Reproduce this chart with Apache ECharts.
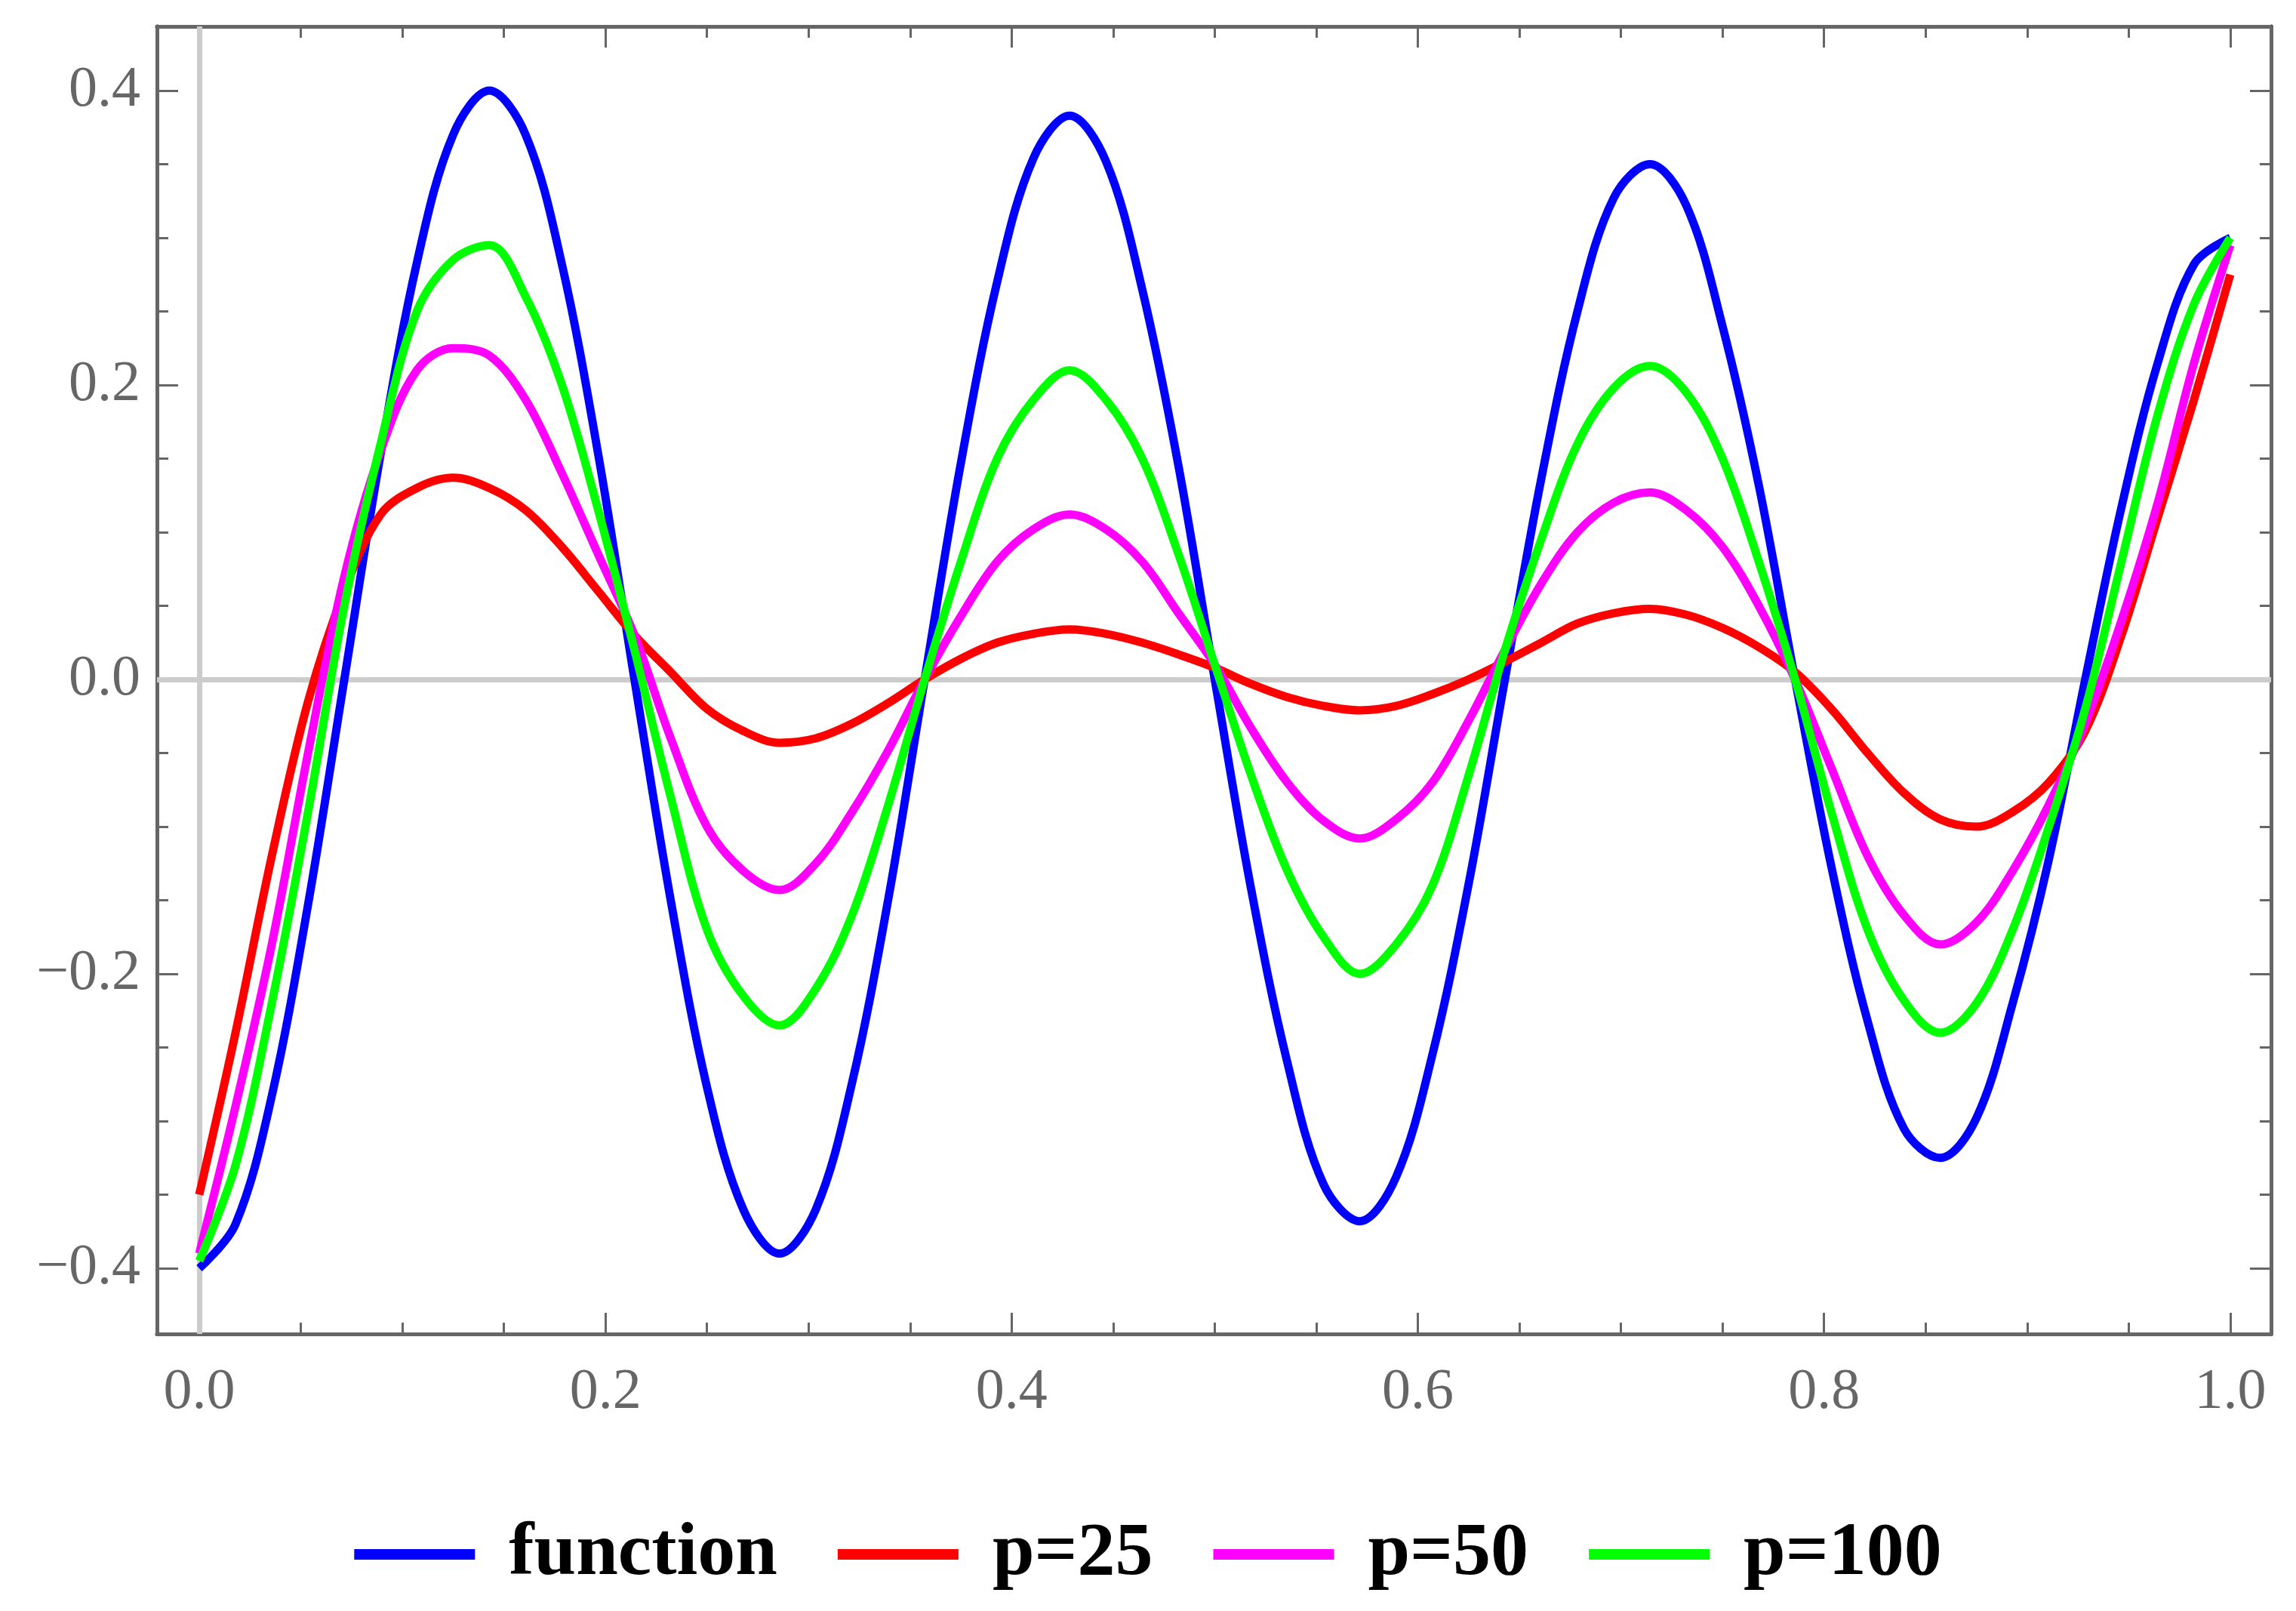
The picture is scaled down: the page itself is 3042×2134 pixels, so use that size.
<!DOCTYPE html>
<html><head><meta charset="utf-8">
<script src="https://cdn.jsdelivr.net/npm/echarts@6/dist/echarts.min.js"></script>
<style>html,body{margin:0;padding:0;background:#fff}#c{width:3042px;height:2134px}</style>
</head><body><div id="c"></div>
<script>
const xs = [];
for (let k = 0; k <= 56; k++) xs.push(k / 56);
const fnVals = [-0.40,-0.37,-0.283,-0.153,0.0,0.153,0.283,0.37,0.40,0.37,0.282,0.153,0.0,-0.15,-0.277,-0.36,-0.39,-0.36,-0.274,-0.149,0.0,0.147,0.27,0.354,0.383,0.352,0.265,0.145,0.0,-0.142,-0.26,-0.343,-0.368,-0.338,-0.255,-0.139,0.0,0.136,0.25,0.327,0.35,0.322,0.24,0.132,0.0,-0.127,-0.232,-0.305,-0.325,-0.298,-0.22,-0.122,0.0,0.117,0.215,0.282,0.30];
const p100Vals = [-0.395,-0.33,-0.22,-0.09,0.05,0.16,0.25,0.285,0.295,0.26,0.20,0.115,0.02,-0.08,-0.17,-0.215,-0.235,-0.21,-0.16,-0.085,0.0,0.08,0.15,0.19,0.21,0.19,0.15,0.085,0.01,-0.065,-0.13,-0.175,-0.20,-0.18,-0.14,-0.065,0.02,0.095,0.16,0.198,0.213,0.195,0.15,0.08,0.0,-0.09,-0.17,-0.218,-0.24,-0.22,-0.17,-0.10,-0.02,0.08,0.18,0.255,0.30];
const p50Vals = [-0.39,-0.29,-0.18,-0.05,0.07,0.155,0.21,0.225,0.22,0.19,0.14,0.085,0.03,-0.04,-0.10,-0.13,-0.143,-0.125,-0.09,-0.048,0.0,0.043,0.08,0.102,0.112,0.102,0.08,0.045,0.01,-0.033,-0.07,-0.096,-0.108,-0.095,-0.07,-0.028,0.02,0.065,0.10,0.12,0.127,0.115,0.09,0.05,0.0,-0.06,-0.12,-0.16,-0.18,-0.165,-0.13,-0.085,-0.03,0.04,0.12,0.215,0.295];
const p25Vals = [-0.35,-0.24,-0.12,-0.015,0.06,0.112,0.13,0.137,0.13,0.115,0.09,0.06,0.03,0.005,-0.02,-0.035,-0.043,-0.04,-0.03,-0.016,0.0,0.014,0.025,0.031,0.034,0.031,0.025,0.017,0.008,-0.003,-0.012,-0.018,-0.021,-0.018,-0.01,0.0,0.012,0.025,0.038,0.045,0.048,0.044,0.035,0.022,0.005,-0.02,-0.05,-0.077,-0.095,-0.1,-0.09,-0.07,-0.035,0.03,0.11,0.19,0.275];
const xMajor = [0,0.2,0.4,0.6,0.8,1.0];
const xMinor = [];
for (let k = 0; k <= 20; k++) xMinor.push(+(k*0.05).toFixed(2));
const yMajor = [-0.4,-0.2,0,0.2,0.4];
const yMinor = [];
for (let k = -8; k <= 8; k++) yMinor.push(+(k*0.05).toFixed(2));

const AX = '#666';
const fmt = v => (v < 0 ? '\u2212' : '') + Math.abs(v).toFixed(1);
const lblFont = {fontFamily:'Liberation Serif', fontSize:76, color:AX};
function xa(pos, ticks, len, labels) {
  return {type:'value', min:-0.0208, max:1.0201, position:pos,
    axisLine:{show:true, onZero:false, lineStyle:{color:AX, width:5}},
    axisTick:{show:true, inside:true, length:len, customValues:ticks, lineStyle:{color:AX, width:3}},
    axisLabel:labels ? Object.assign({show:true, customValues:xMajor, formatter:fmt, margin:40}, lblFont) : {show:false},
    splitLine:{show:false}};
}
function ya(pos, ticks, len, labels) {
  return {type:'value', min:-0.4446, max:0.4436, position:pos,
    axisLine:{show:true, onZero:false, lineStyle:{color:AX, width:5}},
    axisTick:{show:true, inside:true, length:len, customValues:ticks, lineStyle:{color:AX, width:3}},
    axisLabel:labels ? Object.assign({show:true, customValues:yMajor, formatter:fmt, margin:22}, lblFont) : {show:false},
    splitLine:{show:false}};
}
function mk(name, vals, color, z) {
  return {name, type:'line', data:xs.map((x,i)=>[x, vals[i]]), smooth:0.35, showSymbol:false,
    lineStyle:{color, width:11}, itemStyle:{color}, z, xAxisIndex:0, yAxisIndex:0};
}
const series = [
  mk('function', fnVals, '#0000ff', 5),
  mk('p=25', p25Vals, '#ff0000', 6),
  mk('p=50', p50Vals, '#ff00ff', 7),
  mk('p=100', p100Vals, '#00ff00', 8)
];
series[0].markLine = {silent:true, symbol:'none', label:{show:false},
  lineStyle:{color:'#cccccc', width:7, type:'solid'},
  data:[{xAxis:0},{yAxis:0}]};

const chart = echarts.init(document.getElementById('c'));
chart.setOption({
  backgroundColor:'#fff', animation:false,
  grid:{left:208, right:33, top:35, bottom:367},
  xAxis:[xa('bottom', xMajor, 28, true), xa('bottom', xMinor, 15, false), xa('top', xMajor, 28, false), xa('top', xMinor, 15, false)],
  yAxis:[ya('left', yMajor, 28, true), ya('left', yMinor, 15, false), ya('right', yMajor, 28, false), ya('right', yMinor, 15, false)],
  legend:{bottom:20, left:'center', itemWidth:160, itemHeight:14, itemGap:80, icon:'rect',
    textStyle:{fontFamily:'Liberation Serif', fontWeight:'bold', fontSize:100, color:'#000', padding:[0,0,0,40]},
    data:['function','p=25','p=50','p=100']},
  series
});
</script></body></html>
